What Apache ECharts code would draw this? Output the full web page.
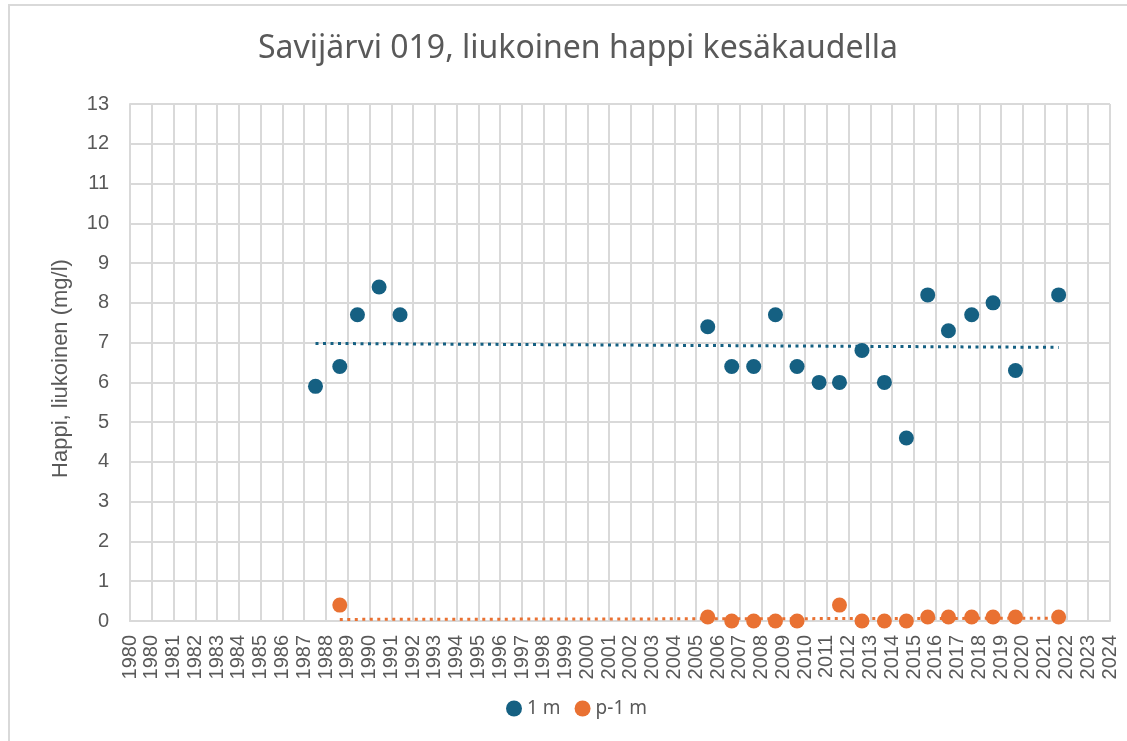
<!DOCTYPE html>
<html>
<head>
<meta charset="utf-8">
<title>Savijärvi 019, liukoinen happi kesäkaudella</title>
<style>
  html, body { margin: 0; padding: 0; background: #fff; }
  #chart { width: 1127px; height: 741px; }
</style>
</head>
<body>
<div id="chart"></div>
<script src="https://cdn.jsdelivr.net/npm/echarts@6/dist/echarts.min.js"></script>
<script>
const TITLE = 'Savijärvi 019, liukoinen happi kesäkaudella';
const Y_NAME = 'Happi, liukoinen (mg/l)';
const NAME_1M = '1 m';
const NAME_P1M = 'p-1 m';

// sampling dates
const DATES_1M = ['1988-07-06', '1989-08-17', '1990-06-09', '1991-06-07', '1992-05-23',
  '2006-07-06', '2007-08-12', '2008-08-14', '2009-08-14', '2010-08-11', '2011-08-15',
  '2012-07-22', '2013-08-03', '2014-08-14', '2015-08-17', '2016-08-09', '2017-07-22',
  '2018-08-16', '2019-08-09', '2020-08-19', '2022-08-12'];
const VALUES_1M = [5.9, 6.4, 7.7, 8.4, 7.7, 7.4, 6.4, 6.4, 7.7, 6.4, 6.0,
  6.0, 6.8, 6.0, 4.6, 8.2, 7.3, 7.7, 8.0, 6.3, 8.2];

const DATES_P1M = ['1989-08-17', '2006-07-06', '2007-08-12', '2008-08-14', '2009-08-14',
  '2010-08-11', '2012-07-22', '2013-08-03', '2014-08-14', '2015-08-17', '2016-08-09',
  '2017-07-22', '2018-08-16', '2019-08-09', '2020-08-19', '2022-08-12'];
const VALUES_P1M = [0.4, 0.1, 0, 0, 0, 0, 0.4, 0, 0, 0, 0.1, 0.1, 0.1, 0.1, 0.1, 0.1];

// linear trendlines: value at first and last sample
const TREND_1M = [6.98, 6.88];
const TREND_P1M = [0.04, 0.07];

const COLOR_1M = '#156082';
const COLOR_P1M = '#E97132';
const TEXT_COLOR = '#595959';
const GRID_COLOR = '#d9d9d9';

// excel date axis: starts 1.1.1980, major unit 365 days
const AXIS_START = Date.UTC(1980, 0, 1);
const DAY = 86400000;
const STEP_DAYS = 365;
const N_STEPS = 45;

function toDays(d) {
	return (Date.parse(d) - AXIS_START) / DAY;
}

function points(dates, values) {
	return dates.map((d, i) => [toDays(d), values[i]]);
}

function trend(dates, ends) {
	return [[toDays(dates[0]), ends[0]], [toDays(dates[dates.length - 1]), ends[1]]];
}

var myChart = echarts.init(document.getElementById('chart'));

var option = {
	animation: false,
	backgroundColor: '#fff',
	textStyle: { fontFamily: 'Liberation Sans' },
	title: {
		text: TITLE,
		left: 573,
		top: 28,
		textAlign: 'center',
		textStyle: { color: TEXT_COLOR, fontSize: 32, fontWeight: 'normal', fontFamily: 'Noto Sans' }
	},
	graphic: [{
		type: 'rect',
		shape: { x: 9, y: 5, width: 1400, height: 1000 },
		style: { fill: null, stroke: GRID_COLOR, lineWidth: 2 },
		silent: true
	}],
	legend: {
		data: [NAME_1M, NAME_P1M],
		left: 501,
		top: 694,
		icon: 'circle',
		itemWidth: 16,
		itemHeight: 16,
		itemGap: 14,
		textStyle: { color: TEXT_COLOR, fontSize: 19, fontFamily: 'Noto Sans' }
	},
	grid: { left: 130, right: 17, top: 104, bottom: 120, containLabel: false },
	xAxis: {
		type: 'value',
		min: 0,
		max: STEP_DAYS * N_STEPS,
		interval: STEP_DAYS,
		axisLine: { lineStyle: { color: GRID_COLOR, width: 2 } },
		axisTick: { show: false },
		splitLine: { lineStyle: { color: GRID_COLOR, width: 2 } },
		axisLabel: {
			rotate: 90,
			margin: 14,
			color: TEXT_COLOR,
			fontSize: 20,
			showMinLabel: true,
			showMaxLabel: true,
			hideOverlap: false,
			formatter: v => new Date(AXIS_START + v * DAY).getUTCFullYear()
		}
	},
	yAxis: {
		type: 'value',
		min: 0,
		max: 13,
		interval: 1,
		name: Y_NAME,
		nameLocation: 'middle',
		nameRotate: 90,
		nameGap: 58,
		nameTextStyle: { color: TEXT_COLOR, fontSize: 22, padding: [0, 12, 0, 0] },
		axisLine: { show: true, lineStyle: { color: GRID_COLOR, width: 2 } },
		axisTick: { show: false },
		splitLine: { lineStyle: { color: GRID_COLOR, width: 2 } },
		axisLabel: { color: TEXT_COLOR, fontSize: 20, margin: 21 }
	},
	series: [
		{
			name: 'trend 1 m',
			type: 'line',
			data: trend(DATES_1M, TREND_1M),
			symbol: 'none',
			silent: true,
			z: 1,
			lineStyle: { color: COLOR_1M, width: 3, type: [3, 4.5] }
		},
		{
			name: 'trend p-1 m',
			type: 'line',
			data: trend(DATES_P1M, TREND_P1M),
			symbol: 'none',
			silent: true,
			z: 1,
			lineStyle: { color: COLOR_P1M, width: 3, type: [3, 4.5] }
		},
		{
			name: NAME_1M,
			type: 'scatter',
			data: points(DATES_1M, VALUES_1M),
			symbolSize: 15,
			z: 3,
			itemStyle: { color: COLOR_1M, opacity: 1 }
		},
		{
			name: NAME_P1M,
			type: 'scatter',
			data: points(DATES_P1M, VALUES_P1M),
			symbolSize: 15,
			z: 3,
			itemStyle: { color: COLOR_P1M, opacity: 1 }
		}
	]
};

myChart.setOption(option);
</script>
</body>
</html>
